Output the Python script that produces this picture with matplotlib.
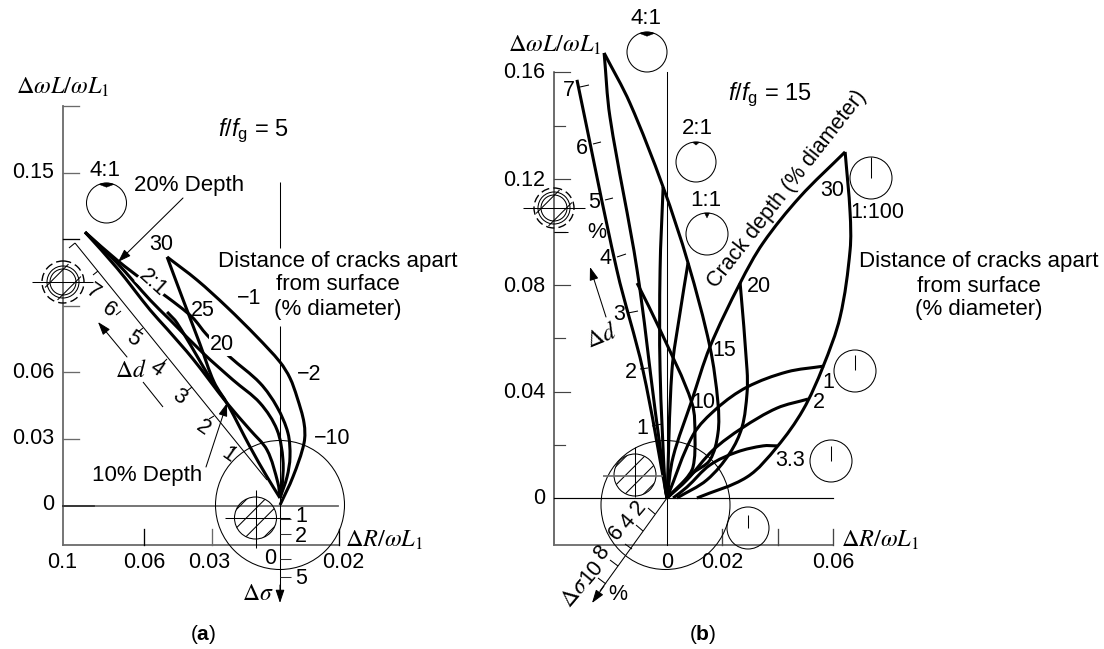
import matplotlib
matplotlib.use("Agg")
import matplotlib.pyplot as plt
import numpy as np
from matplotlib.patches import Circle, PathPatch, Polygon
from matplotlib.path import Path

plt.rcParams["font.family"] = ["Liberation Sans", "DejaVu Sans"]
plt.rcParams["mathtext.fontset"] = "custom"
plt.rcParams["mathtext.rm"] = "Liberation Sans"
plt.rcParams["mathtext.it"] = "Liberation Sans:italic"
plt.rcParams["mathtext.bf"] = "Liberation Sans:bold"

# panel (a) curves, (dR, dL)
a_outer_x = [-0.0498, -0.0366, -0.0234, -0.0101, 0, 0.0044, 0.0075, 0.0106, 0.0106, 0.0057, 0]
a_outer_y = [0.1121, 0.1017, 0.0895, 0.0760, 0.0647, 0.0575, 0.0489, 0.0372, 0.0282, 0.0129, 0.0002]
a_return_x = [-0.0498, -0.0432, -0.0353, -0.0291, -0.0229, -0.0132, -0.0057, 0]
a_return_y = [0.1121, 0.0940, 0.0728, 0.0557, 0.0453, 0.0264, 0.0129, 0.0034]
a_upper_x = [-0.0860, -0.0719, -0.0587, -0.0498, -0.0388, -0.0322, -0.0221, -0.0088, -0.0013, 0.0035, 0.0044, 0.0031, 0]
a_upper_y = [0.1233, 0.1107, 0.1003, 0.0940, 0.0850, 0.0769, 0.0670, 0.0552, 0.0444, 0.0327, 0.0219, 0.0129, 0.0034]
a_mid_x = [-0.0860, -0.0719, -0.0573, -0.0485, -0.0340, -0.0207, -0.0088, -0.0013, 0.0013, 0.0009, 0]
a_mid_y = [0.1233, 0.1094, 0.0927, 0.0837, 0.0688, 0.0566, 0.0462, 0.0341, 0.0205, 0.0083, 0.0034]
a_lower_x = [-0.0860, -0.0719, -0.0573, -0.0498, -0.0384, -0.0234, -0.0132, -0.0057, -0.0009, 0]
a_lower_y = [0.1233, 0.1071, 0.0882, 0.0796, 0.0661, 0.0462, 0.0341, 0.0250, 0.0101, 0.0034]
a_short_x = [-0.0498, -0.0454, -0.0295, -0.0243]
a_short_y = [0.0873, 0.0823, 0.0552, 0.0476]

a_curves = [(a_outer_x, a_outer_y), (a_return_x, a_return_y), (a_upper_x, a_upper_y),
            (a_mid_x, a_mid_y), (a_lower_x, a_lower_y), (a_short_x, a_short_y)]

# panel (b) curves
b_right_x = [0.0643, 0.0661, 0.0661, 0.0625, 0.0563, 0.0491, 0.0397, 0.0289, 0.0108]
b_right_y = [0.1301, 0.1072, 0.0932, 0.0681, 0.0493, 0.0331, 0.0192, 0.0079, 0]
b_left_x = [0.0643, 0.0480, 0.0347, 0.0264, 0.0155, 0.0090, 0.0022, 0]
b_left_y = [0.1301, 0.1132, 0.0959, 0.0808, 0.0568, 0.0368, 0.0154, 0]
b_20_x = [0.0264, 0.0289, 0.0289, 0.0271, 0.0227, 0.0144, 0.0036]
b_20_y = [0.0808, 0.0481, 0.0395, 0.0267, 0.0169, 0.0068, 0]
b_41r_x = [-0.0227, -0.0134, -0.0014, 0.0076, 0.0155, 0.0184, 0.0184, 0.0155, 0.0094, 0.0004]
b_41r_y = [0.1673, 0.1485, 0.1169, 0.0884, 0.0568, 0.0357, 0.0244, 0.0143, 0.0094, 0.0004]
b_41l_x = [-0.0227, -0.0206, -0.0108, -0.0043, 0]
b_41l_y = [0.1673, 0.1433, 0.0857, 0.0331, 0]
b_7_x = [-0.0325, -0.0181, -0.0087, 0]
b_7_y = [0.1572, 0.0857, 0.0481, 0]
b_21_x = [-0.0014, -0.0025, -0.0025, -0.0007, 0]
b_21_y = [0.1169, 0.0857, 0.0481, 0.0041, 0]
b_15_x = [0.0076, 0.0047, 0.0018, 0]
b_15_y = [0.0884, 0.0696, 0.0481, 0]
b_10_x = [-0.0108, -0.0025, 0.0090, 0.0101, 0.0094, 0.0065, 0]
b_10_y = [0.0808, 0.0632, 0.0357, 0.0229, 0.0117, 0.0068, 0]
b_1_x = [0.0567, 0.0433, 0.0289, 0.0181, 0.0094, 0]
b_1_y = [0.0496, 0.0474, 0.0417, 0.0338, 0.0237, 0]
b_2_x = [0.0509, 0.0397, 0.0271, 0.0166, 0.0072, 0]
b_2_y = [0.0372, 0.0338, 0.0263, 0.0180, 0.0068, 0]
b_33_x = [0.0397, 0.0347, 0.0253, 0.0155, 0.0072, 0.0022]
b_33_y = [0.0196, 0.0196, 0.0173, 0.0124, 0.0041, 0]

b_curves = [(b_right_x, b_right_y), (b_left_x, b_left_y), (b_20_x, b_20_y),
            (b_41r_x, b_41r_y), (b_41l_x, b_41l_y), (b_7_x, b_7_y), (b_21_x, b_21_y),
            (b_15_x, b_15_y), (b_10_x, b_10_y), (b_1_x, b_1_y), (b_2_x, b_2_y), (b_33_x, b_33_y)]

# axis ticks
a_left_ticks = [0.03, 0.06, 0.09, 0.12, 0.15, 0.18]
a_bottom_ticks = [-0.06, -0.03, 0.026]
b_left_ticks = [0.02, 0.04, 0.06, 0.08, 0.10, 0.12, 0.14, 0.16]
b_bottom_ticks = [0.02, 0.04, 0.06]

W, H = 1104, 649
GRAY = "#6a6a6a"
THICK = 2.2
THIN = 0.75
NUM = 15.5
TXT = 16
MATH = dict(math_fontfamily="stix")

fig = plt.figure(figsize=(W / 100, H / 100), dpi=100)


def data_axes(x0, x1, px_zero, py_zero, sx, sy):
    ax = fig.add_axes([x0 / W, 0, (x1 - x0) / W, 1])
    ax.set_xlim((x0 - px_zero) / sx, (x1 - px_zero) / sx)
    ax.set_ylim((py_zero - H) / sy, py_zero / sy)
    ax.axis("off")
    return ax


ax_a = data_axes(0, 480, 280, 505.5, 2267, 2217)
ax_b = data_axes(480, W, 667, 498, 2770, 2660)

# overlay in pixels for labels and the little crack pictures
ov = fig.add_axes([0, 0, 1, 1])
ov.set_xlim(0, W)
ov.set_ylim(H, 0)
ov.axis("off")
ov.patch.set_alpha(0)


def draw_curve(ax, xs, ys):
    # smooth pen line through the read points, as bezier segments
    p = np.column_stack([xs, ys])
    t = np.zeros_like(p)
    t[1:-1] = p[2:] - p[:-2]
    t[0] = p[1] - p[0]
    t[-1] = p[-1] - p[-2]
    t = t / np.linalg.norm(t, axis=1, keepdims=True)
    verts = [p[0]]
    codes = [Path.MOVETO]
    for i in range(len(p) - 1):
        step = np.linalg.norm(p[i + 1] - p[i]) / 3
        verts += [p[i] + t[i] * step, p[i + 1] - t[i + 1] * step, p[i + 1]]
        codes += [Path.CURVE4] * 3
    ax.add_patch(PathPatch(Path(verts, codes), fill=False, ec="black", lw=THICK,
                           capstyle="butt", joinstyle="round", clip_on=False))


def label(x, y, s, size=NUM, rot=0, **kw):
    kw.setdefault("ha", "center")
    kw.setdefault("va", "center")
    ov.text(x, y, s, fontsize=size, rotation=rot, rotation_mode="anchor", **kw)


def thin(xs, ys, lw=THIN, color="black"):
    ov.plot(xs, ys, color=color, lw=lw, solid_capstyle="butt")


def arrow(x0, y0, x1, y1):
    ov.annotate("", xy=(x1, y1), xytext=(x0, y0),
                arrowprops=dict(arrowstyle="-|>,head_length=0.8,head_width=0.27", lw=THIN,
                                color="black", shrinkA=0, shrinkB=0))


def hatched(cx, cy, r):
    c = Circle((cx, cy), r, fill=False, ec="black", lw=THIN)
    ov.add_patch(c)
    for off in np.arange(-1.5, 2, 1.0):
        d = off * r * 0.62
        t = np.array([-r * 1.5, r * 1.5])
        line, = ov.plot(cx + t * 0.707 + d * 0.707, cy - t * 0.707 + d * 0.707, color="black", lw=THIN)
        line.set_clip_path(c)


def dashed_target(cx, cy, r_in, r_out):
    for off in [-0.55, 0.55]:
        d = off * r_in
        t = np.array([-r_in, r_in])
        ov.plot(cx + t * 0.707 + d * 0.707, cy - t * 0.707 + d * 0.707, color="black", lw=THIN)
    ov.add_patch(Circle((cx, cy), r_in, fill=False, ec="black", lw=THIN))
    ov.add_patch(Circle((cx, cy), r_in - 3, fill=False, ec="black", lw=THIN))
    ov.add_patch(Circle((cx, cy), r_out, fill=False, ec="black", lw=1.0, ls=(0, (6, 3))))


def crack_circle(cx, cy, r, cap=0.0, notch=0.0, line_from=None, line_to=None):
    ov.add_patch(Circle((cx, cy), r, fill=False, ec="black", lw=THIN))
    if cap > 0:
        t = np.linspace(-cap, cap, 20)
        pts = [(cx + r * np.sin(a), cy - r * np.cos(a)) for a in t]
        pts.append((cx, cy - r * np.cos(cap) + 2.8))
        ov.add_patch(Polygon(pts, closed=True, fc="black", ec="black", lw=0.3))
    if notch > 0:
        ov.add_patch(Polygon([(cx - notch, cy - r), (cx + notch, cy - r), (cx, cy - r + notch * 2)],
                             closed=True, fc="black", ec="black", lw=0.3))
    if line_from is not None:
        thin([cx, cx], [line_from, line_to])


# ---- panel (a)
x_left = (63 - 280) / 2267
y_bot = (505.5 - 545) / 2217
x_end = 0.026
ax_a.plot([x_left, x_left], [y_bot, 0.18], color=GRAY, lw=1.3, clip_on=False)
ax_a.plot([x_left, x_end], [y_bot, y_bot], color=GRAY, lw=1.3, clip_on=False)
ax_a.plot([x_left, x_end - 0.0005], [0, 0], color=GRAY, lw=1.3)
ax_a.plot([x_left, -0.082], [0, 0], color="#333333", lw=1.3)
for v in a_left_ticks:
    ax_a.plot([x_left, x_left + 0.0072], [v, v], color="black" if v == 0.12 else GRAY, lw=THIN + 0.2)
for v in a_bottom_ticks:
    ax_a.plot([v, v], [y_bot, y_bot + 0.0072], color=GRAY if v == -0.03 else "black", lw=THIN + 0.2)
for xs, ys in a_curves:
    draw_curve(ax_a, xs, ys)

thin([280, 280], [182, 248])
thin([280, 280], [326, 590])
arrow(280, 585, 280, 603)
for py in [519, 534, 559, 577]:
    thin([280, 291], [py, py], color="#333333")
ov.add_patch(Circle((280, 505), 64.5, fill=False, ec="black", lw=THIN))
hatched(255.5, 518, 21)
thin([225, 290], [518, 518])
thin([255.5, 255.5], [490, 548])

# delta d scale
thin([75, 267], [243, 480])
for x0, y0, x1, y1 in [(69, 248, 75, 243), (93, 275, 98, 271), (116, 315, 121, 311), (138, 332, 143, 328),
                       (163, 363, 167, 359), (187, 391, 192, 387), (209, 419, 214, 416), (232, 450, 237, 447)]:
    thin([x0, x1], [y0, y1])
for x, y, s in [(93, 292, "7"), (109, 310, "6"), (133, 339, "5"), (157, 369, "4"),
                (179, 397, "3"), (203, 428, "2"), (228, 455, "1")]:
    label(x, y, s, rot=-35)
arrow(127, 357, 98, 322)
thin([143, 163], [382, 407])
label(131, 371, r"$\Delta d$", size=17, **MATH)

dashed_target(63, 282, 16, 21)
thin([32, 93], [282, 282])
thin([63, 78], [306, 306], color=GRAY)

crack_circle(106.5, 203, 20, cap=0.38)
label(105, 170, "4:1", size=TXT)
label(189, 186, "20% Depth", size=TXT)
arrow(183, 198, 118, 262)
label(147, 475, "10% Depth", size=TXT)
arrow(206, 467, 227, 403)
label(161, 244, "30")
label(203, 310, "25")
label(222, 345, "20", bbox=dict(fc="white", ec="none", pad=0.6))
label(153, 283, "2:1", rot=-42, bbox=dict(fc="white", ec="none", pad=0.3))
label(249, 299, "\u22121")
label(309, 374, "\u22122")
label(332, 438, "\u221210")
label(253, 131, r"$f/f_{\mathrm{g}}$ = 5", size=17)
for y, s in [(261, "Distance of cracks apart"), (285, "from surface"), (309, "(% diameter)")]:
    label(338, y, s, size=TXT)

for y, s in [(173, "0.15"), (373, "0.06"), (439, "0.03"), (505, "0")]:
    label(54, y, s, ha="right")
for x, y, s in [(62, 562, "0.1"), (144, 562, "0.06"), (209, 562, "0.03"), (270, 559, "0"), (343, 562, "0.02"),
                (301, 517, "1"), (301, 537, "2"), (301, 578, "5")]:
    label(x, y, s)
label(16, 87, r"$\Delta\omega L/\omega L_1$", size=17.5, ha="left", **MATH)
label(345, 540, r"$\Delta R/\omega L_1$", size=17.5, ha="left", **MATH)
label(258, 594, r"$\Delta\sigma$", size=17, **MATH)

# ---- panel (b)
xb_left = (554.3 - 667) / 2770
yb_bot = (498 - 545) / 2660
ax_b.plot([xb_left, xb_left], [yb_bot, 0.16], color="#444444", lw=1.1, clip_on=False)
ax_b.plot([xb_left, 0.06], [yb_bot, yb_bot], color=GRAY, lw=1.3, clip_on=False)
ax_b.plot([xb_left, 0.06], [0, 0], color="black", lw=THIN + 0.1)
ax_b.plot([0, 0], [yb_bot, 0.16], color="black", lw=THIN)
for v in b_left_ticks:
    long = round(v * 100) % 4 == 0
    ax_b.plot([xb_left, xb_left + (0.0058 if long else 0.004)], [v, v], color="#444444", lw=THIN + 0.1)
for v in b_bottom_ticks:
    ax_b.plot([v, v], [yb_bot, yb_bot + 0.006], color="#444444", lw=THIN + 0.2)
for xs, ys in b_curves:
    draw_curve(ax_b, xs, ys)

ov.add_patch(Circle((665.5, 505), 64.5, fill=False, ec="black", lw=THIN))
hatched(635, 475, 21)
thin([603, 663], [475.5, 475.5], lw=1.2, color=GRAY)
thin([635, 635], [447, 497])

# delta sigma scale
thin([667, 600], [498, 591])
arrow(604, 586, 592, 603)
for x0, y0, x1, y1 in [(648, 508, 655, 514), (636, 525, 643, 531), (625, 544, 632, 549),
                       (610, 560, 618, 566), (598, 578, 606, 584)]:
    thin([x0, x1], [y0, y1])
for x, y, s in [(639, 508, "2"), (628, 522, "4"), (617, 533, "6"), (602, 553, "8"), (592, 572, "10")]:
    label(x, y, s, rot=50)
label(575, 593, r"$\Delta\sigma$", size=17, rot=50, **MATH)
label(618, 594, "%")

# delta d scale
for x0, y0, x1, y1 in [(580, 87, 589, 85), (593, 144, 601, 142), (605, 200, 613, 198), (617, 257, 626, 254),
                       (628, 313, 638, 311), (640, 369, 648, 368), (652, 426, 662, 424)]:
    thin([x0, x1], [y0, y1])
for x, y, s in [(569, 90, "7"), (582, 148, "6"), (594, 203, "5"), (606, 259, "4"),
                (619, 315, "3"), (631, 372, "2"), (642, 428, "1"), (597, 233, "%")]:
    label(x, y, s)
arrow(606, 317, 590, 267)
label(602, 337, r"$\Delta d$", size=17, rot=22, **MATH)

dashed_target(554, 208, 16, 20)
thin([523, 585], [208, 208])
thin([554, 568], [232, 232])

crack_circle(647, 52, 20, cap=0.38)
label(646, 18, "4:1", size=TXT)
crack_circle(696, 162, 20, cap=0.17)
label(697, 128, "2:1", size=TXT)
crack_circle(707, 234, 21, notch=2.5)
label(706, 201, "1:1", size=TXT)
crack_circle(871, 178, 21, line_from=157, line_to=178)
crack_circle(855, 371, 21, line_from=355, line_to=370)
crack_circle(831, 461, 21, line_from=446, line_to=461)
crack_circle(748, 528, 21, line_from=515, line_to=528)

label(770, 95, r"$f/f_{\mathrm{g}}$ = 15", size=17)
label(787, 189, "Crack depth (% diameter)", size=15.5, rot=52)
for x, y, s in [(832, 191, "30"), (759, 286, "20"), (724, 351, "15"), (703, 402, "10"),
                (877, 213, "1:100"), (828, 382, "1"), (819, 403, "2"), (790, 460, "3.3")]:
    label(x, y, s)
for y, s in [(262, "Distance of cracks apart"), (286, "from surface"), (309, "(% diameter)")]:
    label(979, y, s, size=TXT)

for y, s in [(73, "0.16"), (180, "0.12"), (286, "0.08"), (392, "0.04"), (499, "0")]:
    label(545, y, s, ha="right")
for x, s in [(667, "0"), (722, "0.02"), (833, "0.06")]:
    label(x, 562, s)
label(508, 45, r"$\Delta\omega L/\omega L_1$", size=17.5, ha="left", **MATH)
label(841, 540, r"$\Delta R/\omega L_1$", size=17.5, ha="left", **MATH)

label(203, 635, r"($\mathbf{a}$)", size=15)
label(703, 635, r"($\mathbf{b}$)", size=15)

fig.savefig("out.png", dpi=100)
plt.close(fig)
